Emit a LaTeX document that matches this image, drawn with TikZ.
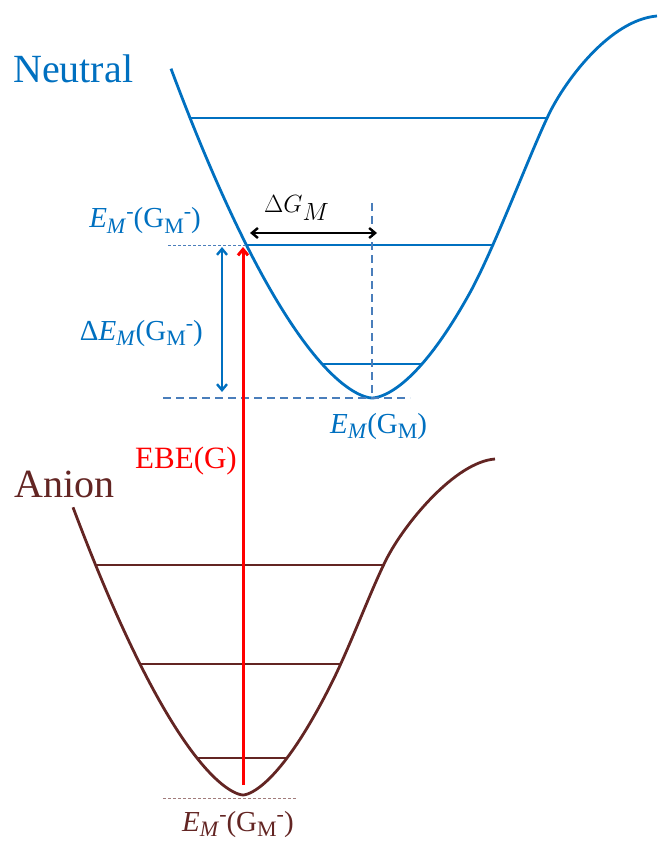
\documentclass[tikz,border=0pt]{standalone}
\usepackage{fontspec}
\setmainfont{Liberation Serif}
\usetikzlibrary{arrows.meta}
\definecolor{nblue}{HTML}{0070C0}
\definecolor{nguide}{HTML}{4A7EBB}
\definecolor{abrown}{HTML}{632523}
\definecolor{ebered}{HTML}{FF0000}
\newcommand{\lsub}[1]{\raisebox{-0.2em}{\fontsize{22}{26}\selectfont #1}}
\newcommand{\lminus}{\raisebox{0.34em}{\fontsize{22}{26}\selectfont -}}

\begin{document}
\begin{tikzpicture}[x=1pt,y=-1pt,
    curve/.style={line width=2.8pt,line join=round},
    level/.style={line width=2.1pt},
    guide/.style={draw=nguide,line width=2.2pt,dash pattern=on 8pt off 5pt},
    hairline/.style={line width=0.8pt,dash pattern=on 3pt off 2pt},
    barb/.style={line width=2.4pt,{Straight Barb[length=6pt,width=10pt]}-{Straight Barb[length=6pt,width=10pt]}},
    big/.style={inner sep=0pt,font=\fontsize{40}{48}\selectfont},
    small/.style={inner sep=0pt,font=\fontsize{29}{35}\selectfont}]
  \useasboundingbox (0,0) rectangle (657,842);

  % key points
  \coordinate (nmin) at (372,398);
  \coordinate (ncross) at (246,245);
  \coordinate (amin) at (243,795);

  % neutral curve and levels
  \draw[nblue,curve] plot[domain=171:372,samples=80] (\x,{398-0.058*(abs(\x-372)+0.001)^1.63})
    -- plot[domain=372:470,samples=50] (\x,{398-0.0476*(abs(\x-372)+0.001)^1.68})
    .. controls (495,247) and (532,148) .. (550,112)
    .. controls (566,80) and (610,20) .. (657,16);
  \foreach \y/\xa/\xb in {118/190/548, 245/246/492, 364/322/422}
    \draw[nblue,level] (\xa,\y) -- (\xb,\y);

  % anion curve and levels
  \draw[abrown,curve] plot[domain=73:243,samples=80] (\x,{795-0.0906*(abs(\x-243)+0.001)^1.57})
    -- plot[domain=243:330,samples=50] (\x,{795-0.0937*(abs(\x-243)+0.001)^1.58})
    .. controls (350,647) and (370,592) .. (386,560)
    .. controls (404,524) and (455,462) .. (495,459);
  \foreach \y/\xa/\xb in {565/96/384, 664/139/340, 758/197/287}
    \draw[abrown,level] (\xa,\y) -- (\xb,\y);

  % guides
  \coordinate (gtop) at (372,203);
  \coordinate (gleft) at (163,398);
  \coordinate (gright) at (410,398);
  \draw[guide] (gtop) -- (nmin);
  \draw[guide] (gleft) -- (gright);
  \coordinate (hleft) at (168,245);
  \draw[nguide,hairline] (hleft) -- (ncross);
  \coordinate (aleft) at (163,798);
  \coordinate (aright) at (297,798);
  \draw[abrown!60,hairline] (aleft) -- (aright);

  % arrows
  \coordinate (dgl) at (250,233);
  \coordinate (dgr) at (377,233);
  \draw[black,barb] (dgl) -- (dgr);
  \coordinate (detop) at (222,247);
  \coordinate (debot) at (222,392);
  \draw[nblue,barb] (detop) -- (debot);
  \coordinate (ebetop) at (243,247);
  \coordinate (ebebot) at (243,785);
  \draw[ebered,line width=3pt,-{Straight Barb[length=6pt,width=10pt]}] (ebebot) -- (ebetop);

  % labels
  \node[big,nblue,anchor=base west] (neutral) at (13,83) {Neutral};
  \node[big,abrown,anchor=base west] (anion) at (14,497) {Anion};
  \node[inner sep=0pt,font=\fontsize{31}{37}\selectfont,ebered,anchor=base east] (ebe) at (237,468) {EBE(G)};
  \node[inner sep=0pt,font=\fontsize{35}{42}\selectfont,anchor=base west] (dg) at (264,212) {$\Delta G_M$};
  \node[small,nblue,anchor=base east] (emtop) at (201,228) {\textit{E}\lsub{\textit{M}}\lminus(G\lsub{M}\lminus)};
  \node[small,nblue,anchor=base east] (dem) at (203,340) {Δ\textit{E}\lsub{\textit{M}}(G\lsub{M}\lminus)};
  \node[small,nblue,anchor=base west] (emmin) at (330,433) {\textit{E}\lsub{\textit{M}}(G\lsub{M})};
  \node[small,abrown,anchor=base west] (emanion) at (182,831) {\textit{E}\lsub{\textit{M}}\lminus(G\lsub{M}\lminus)};
\end{tikzpicture}
\end{document}
